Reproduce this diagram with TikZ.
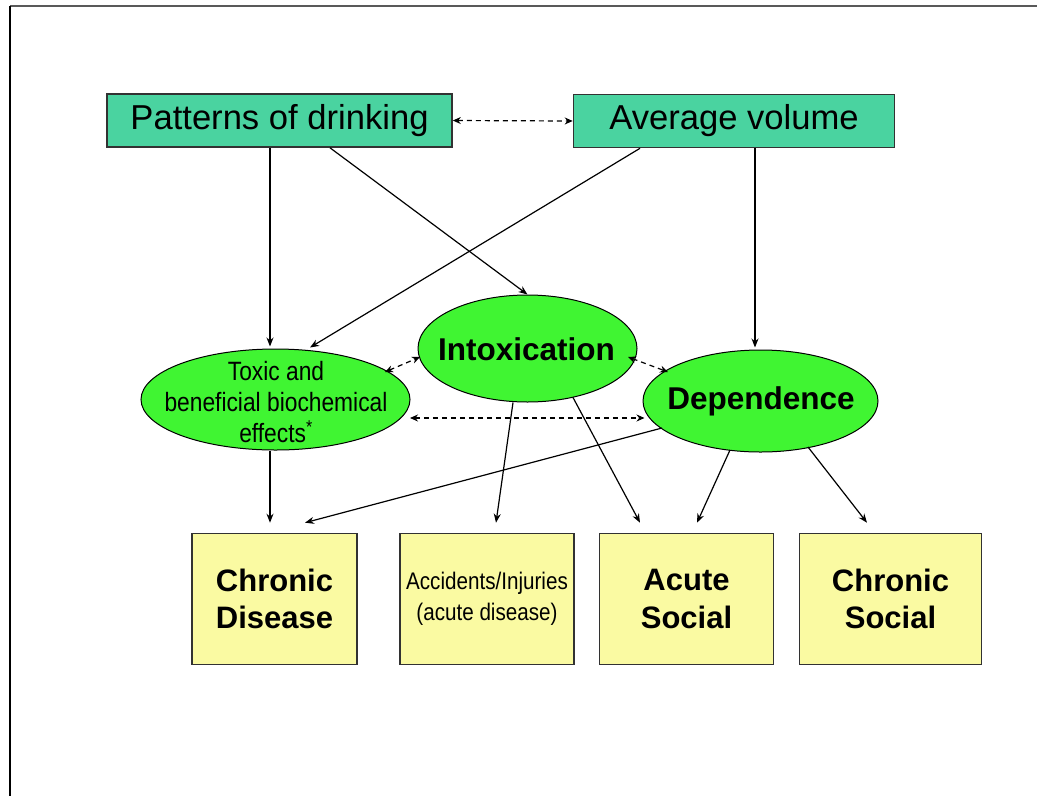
\documentclass[tikz,border=0pt]{standalone}
\usepackage{fontspec}
\setmainfont{Liberation Sans}
\newfontfamily\narrowfont[FakeStretch=0.86]{Liberation Sans}
\usetikzlibrary{shapes.geometric,arrows.meta}
\definecolor{tealbox}{RGB}{74,211,160}
\definecolor{greenell}{RGB}{64,245,50}
\definecolor{yellowbox}{RGB}{250,250,162}
\definecolor{edgegray}{RGB}{50,50,50}
\tikzset{
  topbox/.style={draw=edgegray,line width=1.6pt,fill=tealbox,inner sep=0pt,font=\fontsize{34.6}{40}\selectfont},
  ell/.style={ellipse,draw=black,line width=1pt,fill=greenell,inner sep=0pt},
  elltext/.style={inner sep=0pt,align=center,font=\fontsize{31.5}{38}\selectfont\bfseries},
  outbox/.style={draw=edgegray,line width=1.6pt,fill=yellowbox,inner sep=0pt,minimum height=131pt,align=center,font=\fontsize{31}{37.5}\selectfont\bfseries},
  arr/.style={line width=1.2pt,-{Stealth[length=9pt,width=7pt]}},
  darr/.style={line width=1.2pt,dash pattern=on 5pt off 4pt,{Stealth[length=8pt,width=7pt]}-{Stealth[length=8pt,width=7pt]}}
}
\begin{document}
\begin{tikzpicture}[x=1pt,y=-1pt]
\useasboundingbox (0,0) rectangle (1037,796);
\fill[white] (0,0) rectangle (1037,796);
% frame
\coordinate (ftl) at (10,6);
\coordinate (ftr) at (1037,6);
\coordinate (fbl) at (10,796);
\draw[line width=2pt,draw=black!65] (ftl) -- (ftr);
\draw[line width=2pt,draw=black] (ftl) -- (fbl);
% top boxes
\node[topbox,minimum width=345pt,minimum height=53pt] (pat) at (279.5,120.5) {Patterns of drinking};
\node[topbox,minimum width=321pt,minimum height=53pt] (avg) at (734,121) {Average volume};
% ellipses
\node[ell,minimum width=269pt,minimum height=101pt] (tox) at (275.5,399.5) {};
\node[align=center,font=\narrowfont\fontsize{26.5}{31}\selectfont] (toxt) at (276,402) {Toxic and\\beneficial biochemical\\effects\textsuperscript{*}};
\node[ell,minimum width=219pt,minimum height=107pt] (int) at (527.5,348.5) {};
\node[elltext] (intt) at (526.5,349) {Intoxication};
\node[ell,minimum width=235pt,minimum height=102pt] (dep) at (760.5,401) {};
\node[elltext] (dept) at (761,401) {Dependence};
% bottom boxes
\node[outbox,minimum width=165pt] (cd) at (274.5,599) {Chronic\\Disease};
\node[outbox,minimum width=174pt,font=\narrowfont\fontsize{24}{31}\selectfont] (acc) at (487,599) {Accidents/Injuries\\(acute disease)};
\node[outbox,minimum width=174pt] (acs) at (686.5,599) {Acute\\Social};
\node[outbox,minimum width=182pt] (chs) at (890.5,599) {Chronic\\Social};
% dashed double arrows
\draw[darr] (pat.east) -- (avg.west);
\draw[darr] ([xshift=109.5pt,yshift=27.5pt]tox.center) -- ([xshift=-107.5pt,yshift=-8.5pt]int.center);
\draw[darr] ([xshift=100.5pt,yshift=-8.5pt]int.center) -- ([xshift=-92.5pt,yshift=29pt]dep.center);
\draw[darr] ([xshift=134.5pt,yshift=-18.5pt]tox.center) -- ([xshift=-116pt,yshift=-17pt]dep.center);
% solid arrows
\draw[arr] ([xshift=-9.5pt]pat.south) -- ([xshift=-5.5pt,yshift=2pt]tox.north);
\draw[arr] ([xshift=50.5pt]pat.south) -- (int.north);
\draw[arr] ([xshift=-94pt]avg.south) -- ([xshift=34.5pt,yshift=1pt]tox.north);
\draw[arr] ([xshift=21pt]avg.south) -- ([xshift=-5.5pt,yshift=2pt]dep.north);
\draw[arr] ([xshift=-5.5pt]tox.south) -- ([xshift=-4.5pt,yshift=10pt]cd.north);
\draw[arr] ([xshift=-98.5pt,yshift=-27pt]dep.center) -- ([xshift=30.5pt,yshift=10pt]cd.north);
\draw[arr] ([xshift=-14.5pt]int.south) -- ([xshift=9pt,yshift=10pt]acc.north);
\draw[arr] ([xshift=45.5pt,yshift=-49pt]int.center) -- ([xshift=-46.5pt,yshift=10pt]acs.north);
\draw[arr] ([xshift=-30.5pt,yshift=-49pt]dep.center) -- ([xshift=10.5pt,yshift=10pt]acs.north);
\draw[arr] ([xshift=47.5pt,yshift=-46pt]dep.center) -- ([xshift=-23.5pt,yshift=10pt]chs.north);
\end{tikzpicture}
\end{document}
